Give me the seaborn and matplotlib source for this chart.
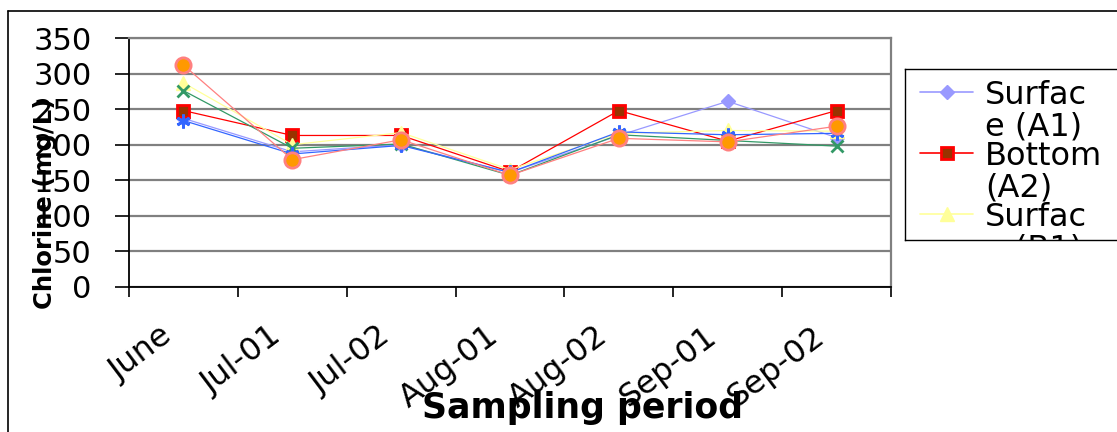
import numpy as np
import pandas as pd
import matplotlib
matplotlib.use("Agg")
import matplotlib.pyplot as plt
import matplotlib.transforms as mtransforms
import seaborn as sns

# values (mg/L)
periods = ["June", "Jul-01", "Jul-02", "Aug-01", "Aug-02", "Sep-01", "Sep-02"]
surface_a1 = [237, 190, 200, 161, 213, 261, 210]
bottom_a2 = [248, 213, 213, 162, 248, 205, 248]
surface_b1 = [287, 200, 217, 165, 216, 220, 219]
bottom_b2 = [276, 195, 201, 157, 214, 206, 198]
surface_c1 = [234, 187, 199, 161, 218, 214, 216]
bottom_c2 = [312, 179, 207, 157, 209, 204, 226]
stations = ["Surface (A1)", "Bottom (A2)", "Surface (B1)",
            "Bottom (B2)", "Surface (C1)", "Bottom (C2)"]
legend_labels = ["Surfac\ne (A1)", "Bottom\n(A2)", "Surfac\ne (B1)"]

rows = []
for name, vals in zip(stations, [surface_a1, bottom_a2, surface_b1,
                                 bottom_b2, surface_c1, bottom_c2]):
    for i, (p, v) in enumerate(zip(periods, vals)):
        rows.append({"station": name, "period": p, "pos": i, "chlorine": v})
df = pd.DataFrame(rows)

styles = {
    "Surface (A1)": dict(color="#9999FF", marker="D", markerfacecolor="#9999FF",
                         markeredgecolor="#9999FF", markersize=7, markeredgewidth=1),
    "Bottom (A2)": dict(color="#FF0000", marker="s", markerfacecolor="#993300",
                        markeredgecolor="#FF0000", markersize=9, markeredgewidth=2),
    "Surface (B1)": dict(color="#FFFF99", marker="^", markerfacecolor="#FFFF99",
                         markeredgecolor="#FFFF99", markersize=10, markeredgewidth=1),
    "Bottom (B2)": dict(color="#339966", marker="x", markerfacecolor="#339966",
                        markeredgecolor="#339966", markersize=9, markeredgewidth=2),
    "Surface (C1)": dict(color="#3366FF", marker=(6, 2, 0), markerfacecolor="#3366FF",
                         markeredgecolor="#3366FF", markersize=10, markeredgewidth=2),
    "Bottom (C2)": dict(color="#FF8080", marker="o", markerfacecolor="#FF9900",
                        markeredgecolor="#FF8080", markersize=11, markeredgewidth=2),
}

sns.set_style("white", {"text.color": "black", "axes.labelcolor": "black",
                        "xtick.color": "black", "ytick.color": "black"})
plt.rcParams["font.family"] = ["DejaVu Sans"]

W, H = 1117, 432
fig = plt.figure(figsize=(W / 100, H / 100), dpi=100)
ax = fig.add_axes([129 / W, (H - 287) / H, 762 / W, 249 / H])

for name in stations:
    sns.lineplot(data=df[df["station"] == name], x="pos", y="chlorine", ax=ax,
                 linewidth=0.9, sort=False, errorbar=None, legend=False,
                 **styles[name])

ax.set_xlim(-0.5, 6.5)
ax.set_ylim(0, 350)
ax.set_yticks(np.arange(0, 351, 50))
ax.tick_params(axis="y", labelsize=22, length=10, width=1.2, pad=17, direction="out", left=True)
ax.yaxis.grid(True, color="#808080", linewidth=1.6)
ax.set_axisbelow(True)

ax.set_xticks(np.arange(-0.5, 7, 1))
ax.set_xticklabels([])
ax.set_xticks(np.arange(7), minor=True)
ax.set_xticklabels(periods, minor=True, rotation=37, ha="right",
                   rotation_mode="anchor", fontsize=23)
ax.tick_params(axis="x", which="major", length=7, width=1.2, direction="out", bottom=True)
ax.tick_params(axis="x", which="minor", length=0, pad=24)
shift = mtransforms.ScaledTranslation(-0.24, 0, fig.dpi_scale_trans)
for lab in ax.get_xticklabels(minor=True):
    lab.set_transform(lab.get_transform() + shift)

for side in ["left", "bottom"]:
    ax.spines[side].set_color("black")
    ax.spines[side].set_linewidth(1.3)
for side in ["top", "right"]:
    ax.spines[side].set_color("#808080")
    ax.spines[side].set_linewidth(1.6)

ax.set_xlabel("Sampling period", fontsize=25, fontweight="bold")
ax.xaxis.set_label_coords((583 - 129) / 762, (287 - 408) / 249)
ax.xaxis.label.set_verticalalignment("center")
ax.set_ylabel("Chlorine (mg/L)", fontsize=17.5, fontweight="bold")
ax.yaxis.set_label_coords((45 - 129) / 762, (287 - 203) / 249)
ax.yaxis.label.set_verticalalignment("center")

# legend box, clipped like the original
lx0, lx1, ly0, ly1 = 905, 1135, 69, 240
lax = fig.add_axes([lx0 / W, (H - ly1) / H, (lx1 - lx0) / W, (ly1 - ly0) / H])
lax.set_xlim(lx0, lx1)
lax.set_ylim(ly1, ly0)
lax.set_xticks([])
lax.set_yticks([])
for sp in lax.spines.values():
    sp.set_color("black")
    sp.set_linewidth(1.0)
for k, (name, lab) in enumerate(zip(stations[:3], legend_labels)):
    y = 92 + 61 * k
    st = styles[name]
    lax.plot([920, 973], [y, y], color=st["color"], linewidth=1.2)
    lax.plot([947], [y], linestyle="none", marker=st["marker"],
             markerfacecolor=st["markerfacecolor"], markeredgecolor=st["markeredgecolor"],
             markersize=st["markersize"], markeredgewidth=st["markeredgewidth"])
    t = lax.text(985, y + 19, lab, fontsize=23, va="center", ha="left",
                 linespacing=1.0, clip_on=True)
    t.set_clip_path(lax.patch)

# outer chart frame (left and top edges visible)
fig.add_artist(plt.Line2D([8 / W, 8 / W], [0, 1 - 11 / H], transform=fig.transFigure,
                          color="black", linewidth=1.2))
fig.add_artist(plt.Line2D([8 / W, 1], [1 - 11 / H, 1 - 11 / H], transform=fig.transFigure,
                          color="black", linewidth=1.2))

fig.savefig("out.png", dpi=100)
